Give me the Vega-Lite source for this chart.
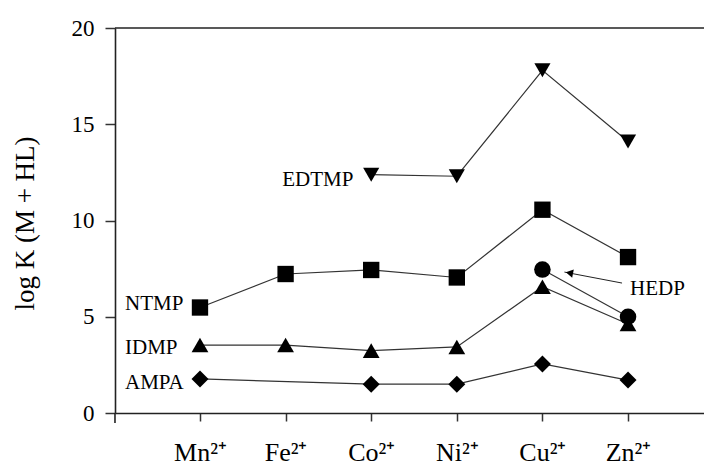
{
  "$schema": "https://vega.github.io/schema/vega-lite/v6.json",
  "width": 589,
  "height": 385,
  "autosize": {"type": "none"},
  "padding": {"left": 115, "top": 28, "right": 0, "bottom": 53},
  "background": "white",
  "config": {"view": {"stroke": null}, "font": "Liberation Serif"},
  "datasets": {
    "pts": [
      {"s": "EDTMP", "ion": "Co²⁺", "v": 12.38},
      {"s": "EDTMP", "ion": "Ni²⁺", "v": 12.3},
      {"s": "EDTMP", "ion": "Cu²⁺", "v": 17.8},
      {"s": "EDTMP", "ion": "Zn²⁺", "v": 14.1},
      {"s": "NTMP", "ion": "Mn²⁺", "v": 5.48},
      {"s": "NTMP", "ion": "Fe²⁺", "v": 7.22},
      {"s": "NTMP", "ion": "Co²⁺", "v": 7.43},
      {"s": "NTMP", "ion": "Ni²⁺", "v": 7.04},
      {"s": "NTMP", "ion": "Cu²⁺", "v": 10.56},
      {"s": "NTMP", "ion": "Zn²⁺", "v": 8.1},
      {"s": "HEDP", "ion": "Cu²⁺", "v": 7.45},
      {"s": "HEDP", "ion": "Zn²⁺", "v": 5.0},
      {"s": "IDMP", "ion": "Mn²⁺", "v": 3.53},
      {"s": "IDMP", "ion": "Fe²⁺", "v": 3.53},
      {"s": "IDMP", "ion": "Co²⁺", "v": 3.24},
      {"s": "IDMP", "ion": "Ni²⁺", "v": 3.43},
      {"s": "IDMP", "ion": "Cu²⁺", "v": 6.56},
      {"s": "IDMP", "ion": "Zn²⁺", "v": 4.62},
      {"s": "AMPA", "ion": "Mn²⁺", "v": 1.77},
      {"s": "AMPA", "ion": "Co²⁺", "v": 1.5},
      {"s": "AMPA", "ion": "Ni²⁺", "v": 1.5},
      {"s": "AMPA", "ion": "Cu²⁺", "v": 2.55},
      {"s": "AMPA", "ion": "Zn²⁺", "v": 1.71}
    ],
    "labels": [
      {"t": "EDTMP", "ion": "Co²⁺", "v": 12.1, "g": "a"},
      {"t": "NTMP", "ion": "Mn²⁺", "v": 5.64, "g": "b"},
      {"t": "IDMP", "ion": "Mn²⁺", "v": 3.4, "g": "b"},
      {"t": "AMPA", "ion": "Mn²⁺", "v": 1.58, "g": "b"},
      {"t": "HEDP", "ion": "Zn²⁺", "v": 6.42, "g": "c"}
    ],
    "arrow": [
      {"ion": "Cu²⁺", "ion2": "Zn²⁺", "v": 7.32, "v2": 6.75}
    ],
    "head": [
      {"ion": "Cu²⁺", "v": 7.28}
    ],
    "frame": [
      {"ion": "Mn²⁺", "v": 20, "base": 0}
    ]
  },
  "layer": [
    {
      "data": {"name": "pts"},
      "mark": {"type": "line", "color": "#333", "strokeWidth": 1.2},
      "encoding": {
        "x": {
          "field": "ion", "type": "ordinal",
          "scale": {"type": "point", "domain": ["Mn²⁺", "Fe²⁺", "Co²⁺", "Ni²⁺", "Cu²⁺", "Zn²⁺"], "padding": 0.94, "align": 0.528},
          "axis": {
            "title": null, "labelAngle": 0,
            "domainColor": "#222", "domainWidth": 1.6,
            "tickColor": "#333", "tickWidth": 1.5, "tickSize": 8,
            "labelFont": "Liberation Serif", "labelFontSize": 26, "labelColor": "#000",
            "labelBaseline": "alphabetic", "labelPadding": 39
          }
        },
        "y": {
          "field": "v", "type": "quantitative",
          "scale": {"domain": [0, 20], "nice": false, "zero": false},
          "axis": {
            "values": [0, 5, 10, 15, 20], "grid": false,
            "domainColor": "#222", "domainWidth": 1.6,
            "tickColor": "#333", "tickWidth": 1.5, "tickSize": 10,
            "labelFont": "Liberation Serif", "labelFontSize": 23, "labelColor": "#000", "labelPadding": 11,
            "title": "log K (M + HL)", "titleFont": "Liberation Serif", "titleFontSize": 27,
            "titleFontWeight": "normal", "titleColor": "#000",
            "titleAngle": -90, "titleX": -90, "titleY": 195,
            "titleAlign": "center", "titleBaseline": "middle"
          }
        },
        "detail": {"field": "s"},
        "order": {"value": null}
      }
    },
    {
      "data": {"name": "frame"},
      "mark": {"type": "rule", "color": "#222", "strokeWidth": 1.6},
      "encoding": {
        "y": {"field": "v", "type": "quantitative"}
      }
    },
    {
      "data": {"name": "frame"},
      "mark": {"type": "rule", "color": "#222", "strokeWidth": 1.6, "xOffset": -85, "y2Offset": 10},
      "encoding": {
        "x": {"field": "ion", "type": "ordinal"},
        "y": {"field": "base", "type": "quantitative"},
        "y2": {"field": "base"}
      }
    },
    {
      "data": {"name": "pts"},
      "mark": {"type": "point", "filled": true, "color": "#000", "opacity": 1},
      "encoding": {
        "x": {"field": "ion", "type": "ordinal"},
        "y": {"field": "v", "type": "quantitative"},
        "shape": {
          "field": "s", "type": "nominal", "legend": null,
          "scale": {"domain": ["EDTMP", "NTMP", "HEDP", "IDMP", "AMPA"], "range": ["triangle-down", "square", "circle", "triangle-up", "diamond"]}
        },
        "size": {
          "field": "s", "type": "nominal", "legend": null,
          "scale": {"domain": ["EDTMP", "NTMP", "HEDP", "IDMP", "AMPA"], "range": [260, 289, 160, 256, 196]}
        }
      }
    },
    {
      "data": {"name": "labels"},
      "transform": [{"filter": "datum.g === 'a'"}],
      "mark": {"type": "text", "align": "left", "baseline": "middle", "dx": -89, "font": "Liberation Serif", "fontSize": 21, "color": "#000"},
      "encoding": {
        "x": {"field": "ion", "type": "ordinal"},
        "y": {"field": "v", "type": "quantitative"},
        "text": {"field": "t"}
      }
    },
    {
      "data": {"name": "labels"},
      "transform": [{"filter": "datum.g === 'b'"}],
      "mark": {"type": "text", "align": "left", "baseline": "middle", "dx": -75, "font": "Liberation Serif", "fontSize": 21, "color": "#000"},
      "encoding": {
        "x": {"field": "ion", "type": "ordinal"},
        "y": {"field": "v", "type": "quantitative"},
        "text": {"field": "t"}
      }
    },
    {
      "data": {"name": "labels"},
      "transform": [{"filter": "datum.g === 'c'"}],
      "mark": {"type": "text", "align": "left", "baseline": "middle", "dx": 2, "font": "Liberation Serif", "fontSize": 21, "color": "#000"},
      "encoding": {
        "x": {"field": "ion", "type": "ordinal"},
        "y": {"field": "v", "type": "quantitative"},
        "text": {"field": "t"}
      }
    },
    {
      "data": {"name": "arrow"},
      "mark": {"type": "rule", "color": "#222", "strokeWidth": 1, "xOffset": 22, "x2Offset": -6},
      "encoding": {
        "x": {"field": "ion", "type": "ordinal"},
        "x2": {"field": "ion2"},
        "y": {"field": "v", "type": "quantitative"},
        "y2": {"field": "v2"}
      }
    },
    {
      "data": {"name": "head"},
      "mark": {"type": "point", "shape": "triangle-left", "filled": true, "color": "#000", "opacity": 1, "size": 70, "angle": 11, "xOffset": 27},
      "encoding": {
        "x": {"field": "ion", "type": "ordinal"},
        "y": {"field": "v", "type": "quantitative"}
      }
    }
  ]
}
